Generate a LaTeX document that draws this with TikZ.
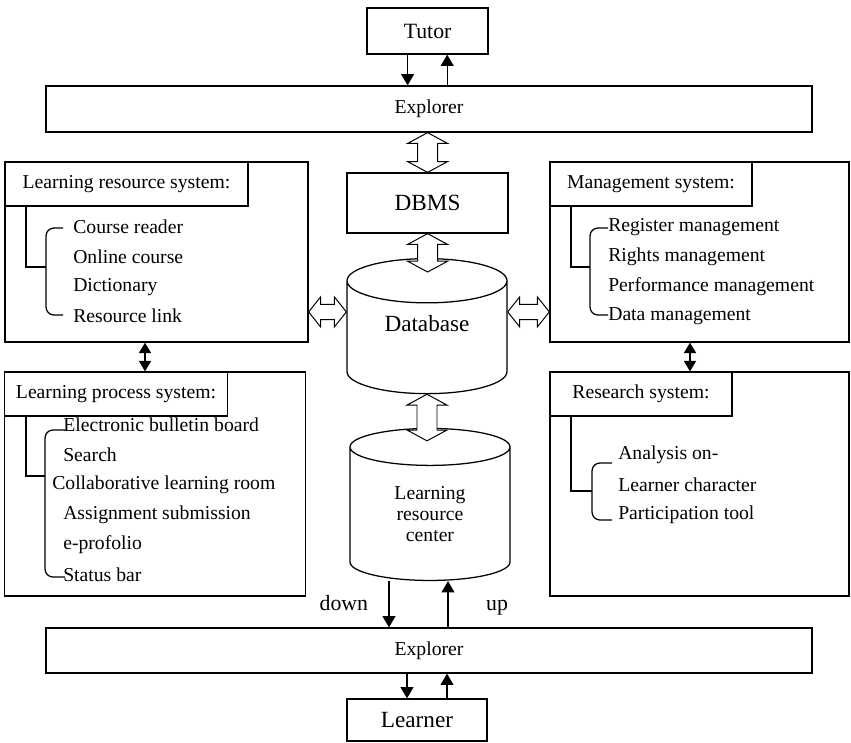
\documentclass[tikz,border=0pt]{standalone}
\usepackage{fontspec}
\setmainfont{Liberation Serif}
\usetikzlibrary{arrows.meta,positioning,shapes.geometric,calc}

% hollow double arrows, vertical (top point, bottom point) and horizontal (left, right)
\newcommand{\pipev}[2]{%
  \draw[hollow] (#1) -- ++(-0.5,-0.27) -- ++(0.25,0) -- ($(#1|-#2)+(-0.25,0.27)$) -- ++(-0.25,0)
    -- (#1|-#2) -- ++(0.5,0.27) -- ++(-0.25,0) -- ($(#1)+(0.25,-0.27)$) -- ++(0.25,0) -- cycle;}
\newcommand{\pipeh}[2]{%
  \draw[hollow] (#1) -- ++(0.3,0.375) -- ++(0,-0.185) -- ($(#1-|#2)+(-0.3,0.19)$) -- ++(0,0.185)
    -- (#1-|#2) -- ++(-0.3,-0.375) -- ++(0,0.185) -- ($(#1)+(0.3,-0.19)$) -- ++(0,-0.185) -- cycle;}

\begin{document}
\begin{tikzpicture}[
  font=\fontsize{14}{15}\selectfont,
  box/.style={draw, line width=0.9pt, inner sep=0pt},
  bar/.style={box, minimum width=19.15cm},
  title/.style={box, anchor=north west, minimum height=1.1cm},
  item/.style={anchor=west, inner sep=0pt},
  big/.style={font=\fontsize{16.5}{18}\selectfont},
  cyl/.style={cylinder, shape border rotate=90, aspect=0.52, draw, line width=0.9pt,
    fill=white, minimum width=4cm, inner sep=0pt, align=center},
  flow/.style={line width=0.9pt, -{Triangle[length=2.8mm,width=3.2mm]}},
  twoway/.style={line width=0.9pt, {Triangle[length=2.6mm,width=3mm]}-{Triangle[length=2.6mm,width=3mm]}},
  hollow/.style={draw, fill=white, line width=0.7pt, line join=miter},
  bracket/.style={line width=0.9pt, rounded corners=0.2cm}
]
\useasboundingbox (0,0) rectangle (21.275,-18.55);

% top: tutor and its browser
\node[box, minimum width=3.025cm, minimum height=1.15cm, font=\fontsize{15.5}{17}\selectfont] (tutor) at (10.69,-0.775) {Tutor};
\node[bar, minimum height=1.15cm] (exptop) at (10.725,-2.725) {Explorer};
\draw[flow] ([xshift=-0.5cm]tutor.south) -- ([xshift=-0.5cm]tutor.south |- exptop.north);
\draw[flow] ([xshift=0.49cm]tutor.south |- exptop.north) -- ([xshift=0.49cm]tutor.south);

% centre column
\node[box, big, minimum width=4.025cm, minimum height=1.5cm] (dbms) at (10.69,-5.075) {DBMS};
\node[cyl, big, minimum height=3.375cm] (db) at (10.675,-8.4375) {\phantom{Database}};
\node[big] (dbtext) at ([yshift=0.36cm]db.center) {Database};
\node[cyl, minimum height=3.8cm] (lrc) at (10.75,-12.85) {Learning\\resource\\center};

\coordinate (dbmsin) at (dbms.north |- exptop.south);
\coordinate (dbtip) at ([yshift=-0.35cm]db.north);
\coordinate (lrctip) at ([yshift=-0.325cm]lrc.north);
\coordinate (dbside) at ([yshift=0.64cm]db.center);
\pipev{dbmsin}{dbms.north}
\pipev{dbms.south}{dbtip}
\pipev{db.south}{lrctip}

% left column
\node[box, minimum width=7.575cm, minimum height=4.5cm] (lrs) at (3.9125,-6.3) {};
\node[title, minimum width=6.075cm] (lrstitle) at (lrs.north west) {Learning resource system:};
\node[item] (lrs1) at (1.825,-5.675) {Course reader};
\node[item] (lrs2) at (1.825,-6.425) {Online course};
\node[item] (lrs3) at (1.825,-7.175) {Dictionary};
\node[item] (lrs4) at (1.825,-7.9) {Resource link};
\draw[line width=0.9pt] (0.65,-5.15) |- (1.15,-6.675);
\draw[bracket] (1.575,-5.7) -- (1.15,-5.7) -- (1.15,-7.875) -- (1.575,-7.875);

\node[box, minimum width=7.525cm, minimum height=5.6cm] (lps) at (3.875,-12.1) {};
\node[title, minimum width=5.575cm] (lpstitle) at (lps.north west) {Learning process system:};
\node[item] (lps1) at (1.575,-10.625) {Electronic bulletin board};
\node[item] (lps2) at (1.575,-11.375) {Search};
\node[item] (lps3) at (1.3,-12.125) {Collaborative learning room};
\node[item] (lps4) at (1.575,-12.875) {Assignment submission};
\node[item] (lps5) at (1.575,-13.625) {e-profolio};
\node[item] (lps6) at (1.575,-14.375) {Status bar};
\draw[line width=0.9pt] (0.65,-10.4) |- (1.125,-11.9);
\draw[bracket] (1.625,-10.75) -- (1.125,-10.75) -- (1.125,-14.425) -- (1.625,-14.425);

\draw[twoway] (lrs.south -| 3.625,0) -- (lps.north -| 3.625,0);

% right column
\node[box, minimum width=7.475cm, minimum height=4.5cm] (ms) at (17.4875,-6.3) {};
\node[title, minimum width=5.05cm] (mstitle) at (ms.north west) {Management system:};
\node[item] (ms1) at (15.2,-5.675) {Register management};
\node[item] (ms2) at (15.2,-6.425) {Rights management};
\node[item] (ms3) at (15.2,-7.175) {Performance management};
\node[item] (ms4) at (15.2,-7.9) {Data management};
\draw[line width=0.9pt] (14.275,-5.15) |- (14.75,-6.675);
\draw[bracket] (15.2,-5.7) -- (14.75,-5.7) -- (14.75,-7.875) -- (15.2,-7.875);

\node[box, minimum width=7.475cm, minimum height=5.6cm] (rs) at (17.4875,-12.1) {};
\node[title, minimum width=4.55cm] (rstitle) at (rs.north west) {Research system:};
\node[item] (rs1) at (15.45,-11.375) {Analysis on-};
\node[item] (rs2) at (15.45,-12.125) {Learner character};
\node[item] (rs3) at (15.45,-12.875) {Participation tool};
\draw[line width=0.9pt] (14.275,-10.4) |- (14.8,-12.275);
\draw[bracket] (15.3,-11.575) -- (14.8,-11.575) -- (14.8,-13.0) -- (15.3,-13.0);

\draw[twoway] (ms.south -| 17.25,0) -- (rs.north -| 17.25,0);

% database to both side systems
\pipeh{lrs.east |- dbside}{db.west}
\pipeh{db.east |- dbside}{ms.west}

% bottom: learner and its browser
\node[bar, minimum height=1.125cm] (expbot) at (10.725,-16.2625) {Explorer};
\node[box, big, minimum width=3.5cm, minimum height=1.05cm] (learner) at (10.425,-18.0) {Learner};
\draw[flow] ([xshift=-1.025cm]lrc.south) -- ([xshift=-1.025cm]lrc.south |- expbot.north);
\draw[flow] ([xshift=0.45cm]lrc.south |- expbot.north) -- ([xshift=0.45cm]lrc.south);
\node[anchor=base east, font=\fontsize{15.5}{17}\selectfont] (down) at (9.325,-15.25) {down};
\node[anchor=base, font=\fontsize{15.5}{17}\selectfont] (up) at (12.425,-15.25) {up};
\draw[flow] ([xshift=-0.25cm]learner.north |- expbot.south) -- ([xshift=-0.25cm]learner.north);
\draw[flow] ([xshift=0.75cm]learner.north) -- ([xshift=0.75cm]learner.north |- expbot.south);
\end{tikzpicture}
\end{document}
